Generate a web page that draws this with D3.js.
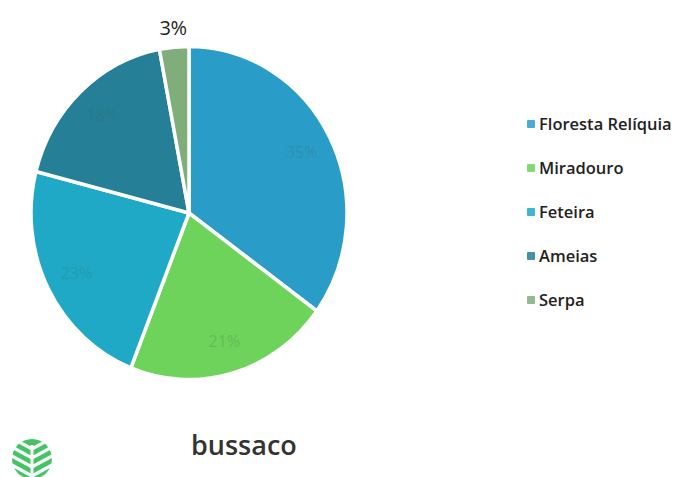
<!DOCTYPE html>
<html>
<head>
<meta charset="utf-8">
<script src="https://cdn.jsdelivr.net/npm/d3@7"></script>
<style>
  body { margin: 0; background: #fff; }
  svg { display: block; }
</style>
</head>
<body>
<svg id="canvas"></svg>
<script>
const categories = ["Floresta Relíquia", "Miradouro", "Feteira", "Ameias", "Serpa"];
const values = [35, 21, 23, 18, 3];
const labels = ["35%", "21%", "23%", "18%", "3%"];
const colors = ["#2a9cc8", "#6ed35a", "#1fa9c6", "#247f97", "#7fae7a"];

function getChartConfig() {
  let canvasWidth = 700,
    canvasHeight = 477;
  let cx = 189,
    cy = 213,
    radius = 158,
    stretch = 1.055;

  let svg = d3.select("#canvas");
  svg.attr("width", canvasWidth);
  svg.attr("height", canvasHeight);

  return { canvasWidth, canvasHeight, cx, cy, radius, stretch, svg };
}

function drawPie(config) {
  let { svg, cx, cy, radius, stretch } = config;
  let cScale = d3.scaleOrdinal().domain(categories).range(colors);

  let pie = d3.pie().sort(null).value((d, i) => values[i]);
  let arcs = pie(categories);

  let arcGen = d3.arc().innerRadius(0).outerRadius(radius);
  let labelArc = d3.arc().innerRadius(radius * 0.8).outerRadius(radius * 0.8);

  let g = svg
    .append("g")
    .attr("transform", `translate(${cx},${cy}) scale(1,${stretch})`);

  g.selectAll("path")
    .data(arcs)
    .enter()
    .append("path")
    .attr("d", arcGen)
    .attr("fill", (d) => cScale(d.data))
    .attr("stroke", "#fff")
    .attr("stroke-width", 3.5)
    .attr("stroke-linejoin", "round");

  // faint in-slice labels (barely visible in reference)
  let txt = svg.append("g").attr("transform", `translate(${cx},${cy})`);
  arcs.forEach((d, i) => {
    if (i === 4) return;
    let [x, y] = labelArc.centroid(d);
    txt
      .append("text")
      .attr("x", x)
      .attr("y", y * stretch)
      .attr("dy", "0.35em")
      .attr("text-anchor", "middle")
      .style("font-family", "'Open Sans', sans-serif")
      .style("font-size", "16px")
      .style("fill", "#3b6b5a")
      .style("opacity", 0.22)
      .text(labels[i]);
  });

  // the small slice carries its label outside, above the pie
  let small = arcs[4];
  let mid = (small.startAngle + small.endAngle) / 2;
  let r = radius + 11;
  svg
    .append("text")
    .attr("x", cx + Math.sin(mid) * r)
    .attr("y", cy - Math.cos(mid) * r * stretch)
    .attr("text-anchor", "middle")
    .style("font-family", "'Open Sans', sans-serif")
    .style("font-size", "20px")
    .style("font-weight", "500")
    .style("letter-spacing", "-0.5px")
    .style("fill", "#222")
    .text(labels[4]);

  return cScale;
}

function drawLegend(cScale, config) {
  let { svg } = config;
  let yScale = d3.scalePoint().domain(categories).range([124, 300]);

  let legend = svg
    .append("g")
    .selectAll(".legend")
    .data(categories)
    .enter()
    .append("g")
    .attr("class", "legend")
    .attr("transform", (d) => `translate(527,${yScale(d)})`);

  legend
    .append("rect")
    .attr("x", 0)
    .attr("y", -4)
    .attr("width", 8)
    .attr("height", 8)
    .attr("rx", 1)
    .style("fill", cScale)
    .style("opacity", 0.85);

  legend
    .append("text")
    .attr("x", 12)
    .attr("dy", "0.36em")
    .style("font-family", "'Open Sans', sans-serif")
    .style("font-size", "16.5px")
    .style("font-weight", "600")
    .style("fill", "#222")
    .text((d) => d);
}

function drawFooter(config) {
  let { svg } = config;
  let logo = svg.append("g").attr("transform", "translate(32,459)");
  logo.append("circle").attr("r", 20).attr("fill", "#45c466");
  let stripes = [-10, -1, 8, 17];
  stripes.forEach((y) => {
    logo
      .append("path")
      .attr("d", `M-22,${y - 12} L0,${y} L22,${y - 12}`)
      .attr("fill", "none")
      .attr("stroke", "#fff")
      .attr("stroke-width", 3.2);
  });
  logo
    .append("line")
    .attr("x1", 0)
    .attr("y1", -14)
    .attr("x2", 0)
    .attr("y2", 22)
    .attr("stroke", "#fff")
    .attr("stroke-width", 3);

  svg
    .append("text")
    .attr("x", 191)
    .attr("y", 455)
    .style("font-family", "'Open Sans', sans-serif")
    .style("font-size", "27px")
    .style("font-weight", "600")
    .style("fill", "#333")
    .text("bussaco");
}

let config = getChartConfig();
let cScale = drawPie(config);
drawLegend(cScale, config);
drawFooter(config);
</script>
</body>
</html>
